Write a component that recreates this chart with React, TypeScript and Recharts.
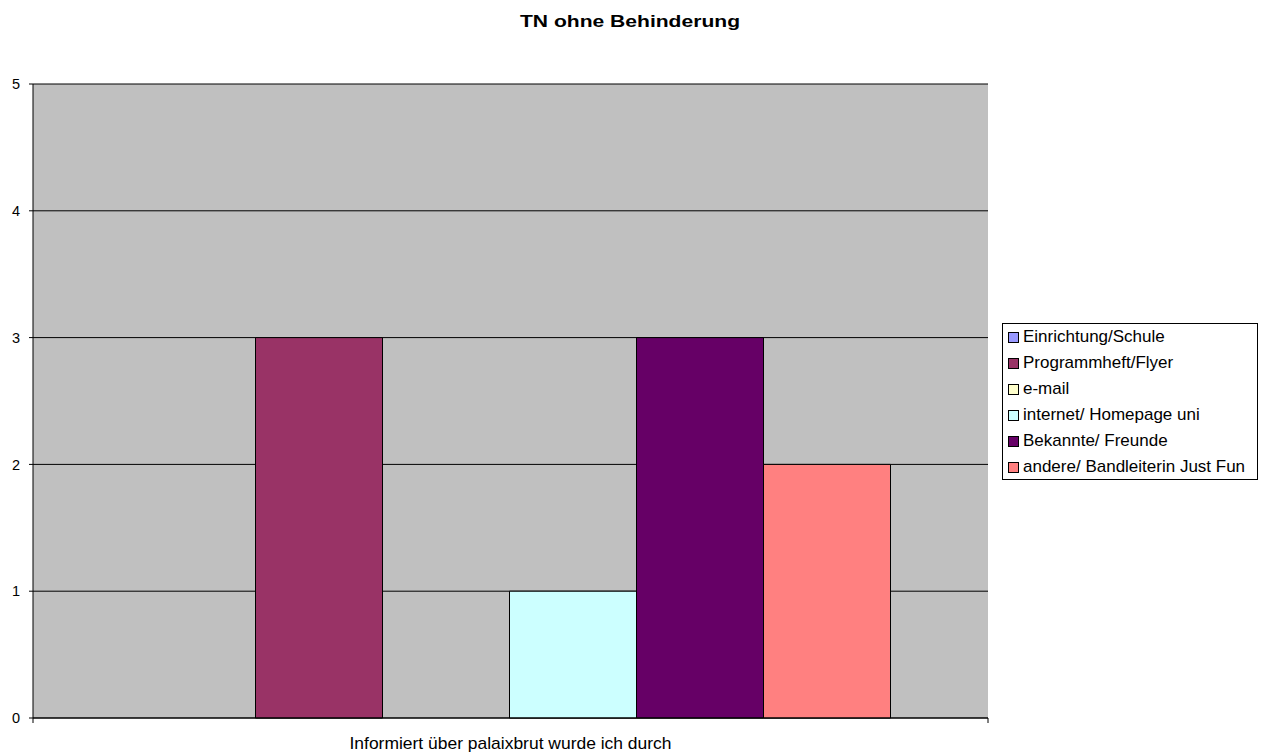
import React from 'react';
import { BarChart, Bar, XAxis, YAxis, CartesianGrid, Legend } from 'recharts';

const categories = ['Informiert über palaixbrut wurde ich durch'];
const seriesNames = [
  'Einrichtung/Schule',
  'Programmheft/Flyer',
  'e-mail',
  'internet/ Homepage uni',
  'Bekannte/ Freunde',
  'andere/ Bandleiterin Just Fun',
];
const seriesValues = [0, 3, 0, 1, 3, 2];
const seriesColors = ['#9999FF', '#993366', '#FFFFCC', '#CCFFFF', '#660066', '#FF8080'];
const yTicks = [0, 1, 2, 3, 4, 5];
const title = 'TN ohne Behinderung';

const FONT = '"Liberation Sans", Arial, sans-serif';
const CHART_W = 1265;
const CHART_H = 753;
const MARGIN = { top: 84, right: 277, bottom: 0, left: 0 };
const Y_AXIS_W = 33;
const X_AXIS_H = 35;
const PLOT_W = CHART_W - MARGIN.left - MARGIN.right - Y_AXIS_W;

const data = categories.map((name) => {
  const row: Record<string, string | number> = { name };
  seriesNames.forEach((s, i) => {
    row[s] = seriesValues[i];
  });
  return row;
});

// category label plus the small tick marks at both ends of the band
const CategoryTick = (props: any) => {
  const { x, y, payload } = props;
  const half = PLOT_W / 2 / categories.length;
  return (
    <g>
      <line x1={x - half} y1={y} x2={x - half} y2={y + 5} stroke="#000" />
      <line x1={x + half} y1={y} x2={x + half} y2={y + 5} stroke="#000" />
      <text
        x={x}
        y={y + 31}
        textAnchor="middle"
        fontFamily={FONT}
        fontSize={17}
        textLength={322}
        lengthAdjust="spacingAndGlyphs"
        fill="#000"
      >
        {payload.value}
      </text>
    </g>
  );
};

const LegendBox = () => (
  <div
    style={{
      border: '1px solid #000',
      background: '#fff',
      width: 256,
      height: 157,
      boxSizing: 'border-box',
      fontFamily: FONT,
      fontSize: 17,
      color: '#000',
    }}
  >
    {seriesNames.map((s, i) => (
      <div key={s} style={{ display: 'flex', alignItems: 'center', height: 26, whiteSpace: 'nowrap' }}>
        <span
          style={{
            display: 'inline-block',
            width: 9,
            height: 9,
            background: seriesColors[i],
            border: '1px solid #000',
            marginLeft: 5,
            marginRight: 4,
          }}
        />
        <span>{s}</span>
      </div>
    ))}
  </div>
);

export default function App() {
  return (
    <div style={{ position: 'absolute', left: 0, top: 0, width: CHART_W, height: CHART_H, background: '#fff' }}>
      <svg width={CHART_W} height={40} style={{ position: 'absolute', left: 0, top: 0, zIndex: 1 }}>
        <text
          x={630}
          y={27}
          textAnchor="middle"
          fontFamily={FONT}
          fontWeight="bold"
          fontSize={16.5}
          textLength={220}
          lengthAdjust="spacingAndGlyphs"
          fill="#000"
        >
          {title}
        </text>
      </svg>
      <BarChart
        width={CHART_W}
        height={CHART_H}
        data={data}
        margin={MARGIN}
        barCategoryGap="10%"
        barGap={0}
      >
        <CartesianGrid vertical={false} stroke="#000" fill="#C0C0C0" fillOpacity={1} />
        <XAxis
          dataKey="name"
          height={X_AXIS_H}
          stroke="#000"
          tickLine={false}
          tickSize={0}
          tickMargin={0}
          tick={<CategoryTick />}
          interval={0}
        />
        <YAxis
          width={Y_AXIS_W}
          domain={[0, 5]}
          ticks={yTicks}
          stroke="#000"
          tickSize={4}
          tickMargin={9}
          tick={{ fontFamily: FONT, fontSize: 14.5, fill: '#000' }}
          interval={0}
        />
        <YAxis
          yAxisId="right"
          orientation="right"
          width={0}
          domain={[0, 5]}
          stroke="#808080"
          tick={false}
          tickLine={false}
        />
        <Legend
          layout="vertical"
          align="center"
          verticalAlign="middle"
          wrapperStyle={{ left: 1002, top: 323, width: 256 }}
          content={() => <LegendBox />}
        />
        {seriesNames.map((s, i) => (
          <Bar
            key={s}
            dataKey={s}
            fill={seriesColors[i]}
            stroke="#000"
            strokeWidth={1}
            isAnimationActive={false}
          />
        ))}
      </BarChart>
    </div>
  );
}
